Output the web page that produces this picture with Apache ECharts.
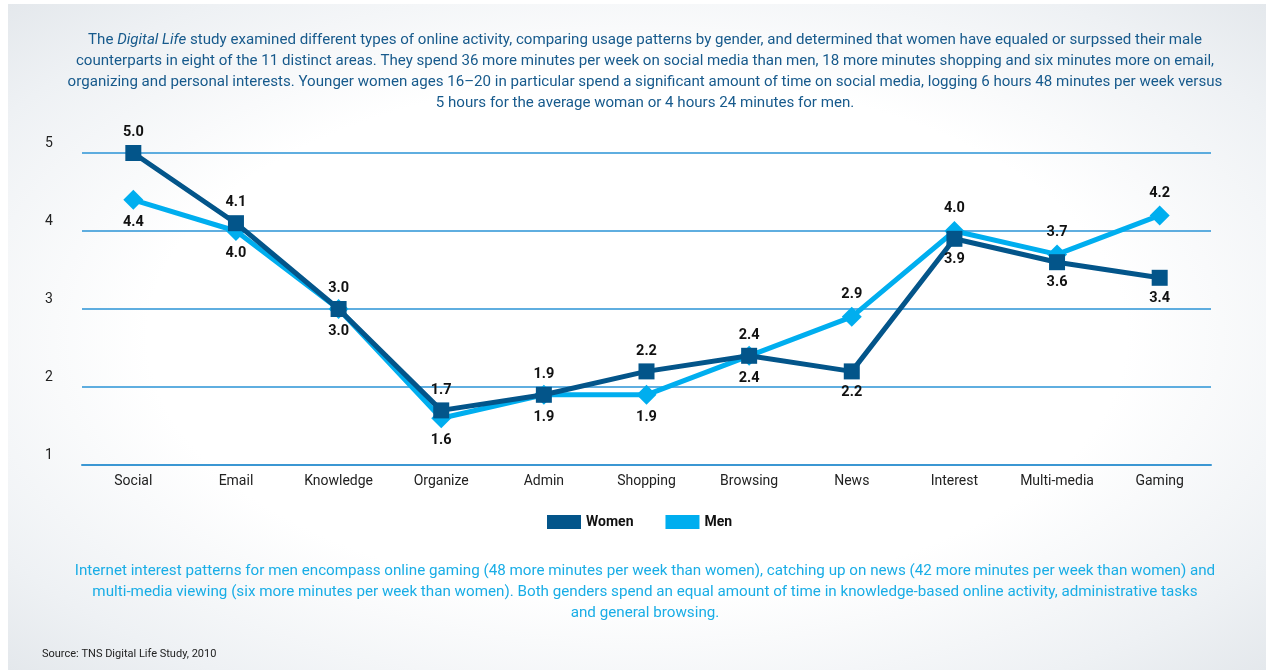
<!DOCTYPE html>
<html>
<head>
<meta charset="utf-8">
<script src="https://cdn.jsdelivr.net/npm/echarts@6/dist/echarts.min.js"></script>
<style>
  html, body { margin: 0; padding: 0; background: #fff; }
  .mainBox {
    position: absolute;
    left: 8px; top: 4px; right: 0; bottom: 2px;
    background: radial-gradient(ellipse at 50% 50%, #ffffff 55%, #eef1f4 85%, #e4e8ec 100%);
  }
  #myChart { position: absolute; left: 0; top: 0; width: 1266px; height: 672px; }
</style>
</head>
<body>
<div class="mainBox"></div>
<div id="myChart"></div>
<script>
var categories = ["Social", "Email", "Knowledge", "Organize", "Admin", "Shopping", "Browsing", "News", "Interest", "Multi-media", "Gaming"];
var women = [5.0, 4.1, 3.0, 1.7, 1.9, 2.2, 2.4, 2.2, 3.9, 3.6, 3.4];
var men = [4.4, 4.0, 3.0, 1.6, 1.9, 1.9, 2.4, 2.9, 4.0, 3.7, 4.2];
var yTicks = [1, 2, 3, 4, 5];

var introText = [
  "{n|The }{i|Digital Life}{n| study examined different types of online activity, comparing usage patterns by gender, and determined that women have equaled or surpssed their male}",
  "{n|counterparts in eight of the 11 distinct areas. They spend 36 more minutes per week on social media than men, 18 more minutes shopping and six minutes more on email,}",
  "{n|organizing and personal interests. Younger women ages 16–20 in particular spend a significant amount of time on social media, logging 6 hours 48 minutes per week versus}",
  "{n|5 hours for the average woman or 4 hours 24 minutes for men.}"
].join("\n");

var noteText = [
  "Internet interest patterns for men encompass online gaming (48 more minutes per week than women), catching up on news (42 more minutes per week than women) and",
  "multi-media viewing (six more minutes per week than women). Both genders spend an equal amount of time in knowledge-based online activity, administrative tasks",
  "and general browsing."
].join("\n");

var FONT = "Roboto, 'DejaVu Sans', sans-serif";

// women labels sit above for the first seven points, men below; swapped after
function withLabels(values, firstAbove) {
  return values.map(function (v, i) {
    var above = i < 7 ? firstAbove : !firstAbove;
    return { value: v, label: { position: above ? "top" : "bottom" } };
  });
}

var myChart = echarts.init(document.getElementById("myChart"));
var option = {
  backgroundColor: "transparent",
  textStyle: { fontFamily: FONT },
  title: [
    {
      text: introText,
      left: 640,
      top: 25,
      textAlign: "center",
      textStyle: {
        fontWeight: "normal",
        rich: {
          n: { fontFamily: FONT, fontSize: 15.1, fontWeight: "normal", color: "#175a8c", lineHeight: 21 },
          i: { fontFamily: FONT, fontSize: 15.1, fontWeight: "normal", color: "#175a8c", lineHeight: 21, fontStyle: "italic" }
        }
      }
    },
    {
      text: noteText,
      left: 640,
      top: 556,
      textAlign: "center",
      textStyle: { fontFamily: FONT, fontSize: 15.2, fontWeight: "normal", color: "#19ade6", lineHeight: 21, align: "center" }
    },
    {
      text: "Source: TNS Digital Life Study, 2010",
      left: 37,
      top: 644,
      textStyle: { fontFamily: FONT, fontSize: 11, fontWeight: "normal", color: "#222" }
    }
  ],
  grid: { left: 82, right: 55, top: 153, bottom: 207 },
  legend: {
    data: ["Women", "Men"],
    left: 542,
    top: 510,
    itemWidth: 34,
    itemHeight: 14,
    itemGap: 32,
    icon: "rect",
    textStyle: { fontFamily: FONT, fontSize: 14, color: "#111", fontWeight: "bold" }
  },
  xAxis: {
    type: "category",
    data: categories,
    boundaryGap: true,
    axisLine: { lineStyle: { color: "#3b97d3", width: 2 } },
    axisTick: { show: false },
    splitLine: { show: false },
    axisLabel: { color: "#222", fontSize: 14, margin: 9, fontFamily: FONT }
  },
  yAxis: {
    type: "value",
    min: yTicks[0],
    max: yTicks[yTicks.length - 1],
    interval: 1,
    axisLine: { show: false },
    axisTick: { show: false },
    splitLine: { show: true, lineStyle: { color: "#2a93d6", width: 1.5 } },
    axisLabel: {
      color: "#222",
      fontSize: 14,
      align: "left",
      margin: 37,
      verticalAlign: "bottom",
      padding: [0, 0, 3, 0],
      fontFamily: FONT
    }
  },
  series: [
    {
      name: "Women",
      type: "line",
      data: withLabels(women, true),
      color: "#03558a",
      symbol: "rect",
      symbolSize: 16,
      z: 3,
      lineStyle: { width: 5, color: "#03558a" },
      itemStyle: { color: "#03558a" },
      label: {
        show: true,
        color: "#111",
        fontSize: 14.5,
        fontWeight: "bold",
        fontFamily: FONT,
        formatter: function (p) { return p.value.toFixed(1); }
      }
    },
    {
      name: "Men",
      type: "line",
      data: withLabels(men, false),
      color: "#00aeef",
      symbol: "diamond",
      symbolSize: 20,
      z: 2,
      lineStyle: { width: 5, color: "#00aeef" },
      itemStyle: { color: "#00aeef" },
      label: {
        show: true,
        color: "#111",
        fontSize: 14.5,
        fontWeight: "bold",
        fontFamily: FONT,
        formatter: function (p) { return p.value.toFixed(1); }
      }
    }
  ]
};
myChart.setOption(option);
</script>
</body>
</html>
